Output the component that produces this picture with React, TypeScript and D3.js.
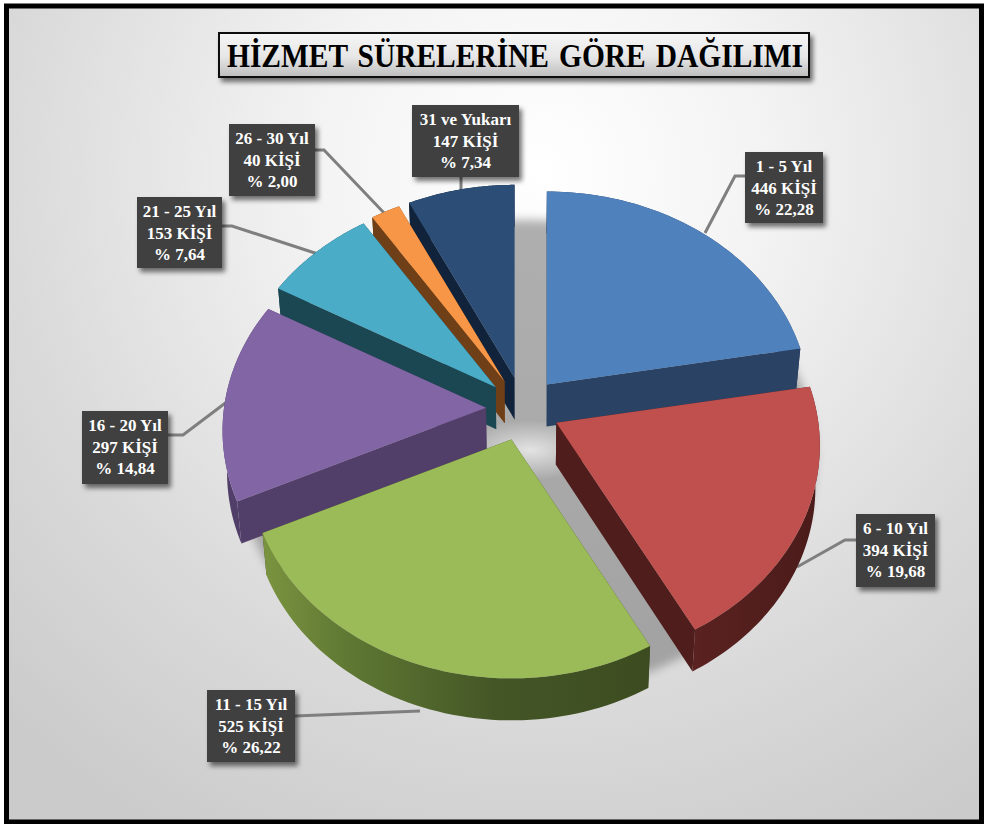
import React from "react";
import * as d3 from "d3";

const title = "HİZMET SÜRELERİNE GÖRE DAĞILIMI";
const categories = ["1 - 5 Yıl", "6 - 10 Yıl", "11 - 15 Yıl", "16 - 20 Yıl", "21 - 25 Yıl", "26 - 30 Yıl", "31 ve Yukarı"];
const people = [446, 394, 525, 297, 153, 40, 147];
const peopleLabels = ["446 KİŞİ", "394 KİŞİ", "525  KİŞİ", "297 KİŞİ", "153 KİŞİ", "40 KİŞİ", "147 KİŞİ"];
const percents = ["% 22,28", "% 19,68", "% 26,22", "% 14,84", "% 7,64", "% 2,00", "% 7,34"];
const topColors = ["#4f81bd", "#c0504d", "#9bbb59", "#8265a5", "#4bacc8", "#f79646", "#2c4d75"];
const wallColors = ["#2a4263", "#4f1e1c", "#3f5022", "#523f69", "#1b4753", "#6f3f17", "#11233b"];
const paintOrder = [6, 5, 4, 0, 3, 1, 2];

// label layout: box [x0, y0, x1, y1] and leader polyline
const boxes = [
  [745, 152, 823, 223], [856, 514, 935, 587], [207, 690, 295, 762], [82, 411, 168, 484],
  [137, 197, 222, 268], [229, 124, 315, 196], [412, 105, 519, 177],
];
const leaders = [
  [[745, 176], [735, 176], [705, 233]],
  [[856, 540], [845, 540], [797, 567]],
  [[295, 716], [420, 711]],
  [[168, 435], [183, 435], [228, 401]],
  [[222, 226], [232, 226], [318, 254]],
  [[315, 150], [324, 150], [386, 215]],
  [[461, 177], [461, 192]],
];

const W = 988, H = 824;
const cx = 523, cy = 409, explodeX = 37, explodeY = 32, depth = 42;
const wallTaper = 0.985;

type P = [number, number];
const project = (a: number, r: number): P => {
  const u = Math.sin(a) * r, v = -Math.cos(a) * r;
  return [u * (262 + 28 * v), 216 * v + 23 * v * v];
};
const line = d3.line<P>().curve(d3.curveLinear);
const arcs = d3.pie<number>().sort(null).startAngle(0).endAngle(2 * Math.PI)(people);

const sample = (a0: number, a1: number) =>
  d3.range(0, 61).map((i) => project(a0 + ((a1 - a0) * i) / 60, 1));

const shift = (ps: P[], dx: number, dy: number): P[] => ps.map(([x, y]) => [x + dx, y + dy]);
const lower = (p: P): P => [cx + (p[0] - cx) * wallTaper, p[1] + depth];

function sliceGeom(a0: number, a1: number) {
  const mid = (a0 + a1) / 2;
  const ox = cx + Math.sin(mid) * explodeX;
  const oy = cy - Math.cos(mid) * explodeY;
  const rim = shift(sample(a0, a1), ox, oy);
  const apex: P = [ox, oy];
  return { rim, apex };
}

const shadowOutline: P[] = sample(0, 2 * Math.PI).map(([x, y]) => [526 + x * 1.1, 432 + y * 1.1]);

export default function App() {
  return (
    <svg width={W} height={H} style={{ position: "absolute", left: 0, top: 0, background: "#fff" }}>
      <defs>
        <radialGradient id="bg" gradientUnits="userSpaceOnUse" cx={540} cy={170} r={760}>
          <stop offset="0" stopColor="#ffffff" />
          <stop offset="0.3" stopColor="#f3f3f3" />
          <stop offset="0.7" stopColor="#dadada" />
          <stop offset="1" stopColor="#cbcbcb" />
        </radialGradient>
        <linearGradient id="titleG" x1="0" y1="0" x2="0" y2="1">
          <stop offset="0" stopColor="#f6f6f6" />
          <stop offset="0.55" stopColor="#e6e6e6" />
          <stop offset="1" stopColor="#bdbdbd" />
        </linearGradient>
        <linearGradient id="wall2" x1="0" y1="0" x2="1" y2="0">
          <stop offset="0" stopColor="#7b9440" />
          <stop offset="0.22" stopColor="#5f7833" />
          <stop offset="0.6" stopColor="#445626" />
          <stop offset="1" stopColor="#3c4c20" />
        </linearGradient>
        <linearGradient id="wall1" x1="0" y1="0" x2="1" y2="0">
          <stop offset="0" stopColor="#5a2220" />
          <stop offset="1" stopColor="#4a1b1a" />
        </linearGradient>
        <radialGradient id="spot">
          <stop offset="0" stopColor="#e6e6e6" stopOpacity="0.95" />
          <stop offset="1" stopColor="#e6e6e6" stopOpacity="0" />
        </radialGradient>
        <filter id="soft" x="-20%" y="-20%" width="140%" height="140%">
          <feGaussianBlur stdDeviation="5" />
        </filter>
        <filter id="boxShadow" x="-20%" y="-20%" width="150%" height="150%">
          <feDropShadow dx="3" dy="4" stdDeviation="2.5" floodColor="#000" floodOpacity="0.55" />
        </filter>
      </defs>

      <rect x={6.5} y={6} width={W - 13} height={H - 8} fill="url(#bg)" stroke="#000" strokeWidth={5} />

      {/* soft floor shadow */}
      <path d={(line(shadowOutline) ?? "") + "Z"} fill="#808080" opacity={0.62} filter="url(#soft)" />
      <ellipse cx={530} cy={450} rx={70} ry={30} fill="url(#spot)" />

      {/* title */}
      <g>
        <rect x={219} y={33} width={590} height={44} fill="url(#titleG)" stroke="#111" strokeWidth={2} filter="url(#boxShadow)" />
        <text x={515} y={67} textAnchor="middle" fontFamily="'Liberation Serif', serif" fontWeight={700} fontSize={33} wordSpacing={3} textLength={576} lengthAdjust="spacingAndGlyphs" fill="#000">
          {title}
        </text>
      </g>

      {/* leaders */}
      {leaders.map((l, i) => (
        <path key={i} d={line(l as P[]) ?? ""} fill="none" stroke="#7f7f7f" strokeWidth={3} />
      ))}

      {/* slices */}
      {paintOrder.map((i) => {
        const d = arcs[i];
        const { rim, apex } = sliceGeom(d.startAngle, d.endAngle);
        const first = rim[0];
        const last = rim[rim.length - 1];
        const wallFill = i === 2 ? "url(#wall2)" : i === 1 ? "url(#wall1)" : wallColors[i];
        const outer: P[] = [...rim, ...rim.map(lower).reverse()];
        const cut0: P[] = [apex, first, lower(first), lower(apex)];
        const cut1: P[] = [apex, last, lower(last), lower(apex)];
        return (
          <g key={i}>
            <path d={(line(cut0) ?? "") + "Z"} fill={wallColors[i]} />
            <path d={(line(cut1) ?? "") + "Z"} fill={wallColors[i]} />
            <path d={(line(outer) ?? "") + "Z"} fill={wallFill} />
            <path d={(line([apex, ...rim]) ?? "") + "Z"} fill={topColors[i]} />
          </g>
        );
      })}

      {/* labels */}
      {boxes.map(([x0, y0, x1, y1], i) => {
        const mx = (x0 + x1) / 2;
        return (
          <g key={i}>
            <rect x={x0} y={y0} width={x1 - x0} height={y1 - y0} fill="#3f3f3f" filter="url(#boxShadow)" />
            <g fill="#fff" fontFamily="'Liberation Serif', serif" fontWeight={700} fontSize={17} textAnchor="middle">
              <text x={mx} y={y0 + 20}>{categories[i]}</text>
              <text x={mx} y={y0 + 42}>{peopleLabels[i]}</text>
              <text x={mx} y={y0 + 63}>{percents[i]}</text>
            </g>
          </g>
        );
      })}
    </svg>
  );
}
